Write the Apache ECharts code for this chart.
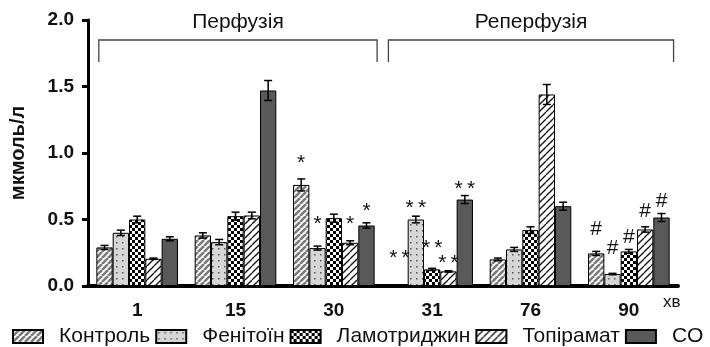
<!DOCTYPE html>
<html>
<head>
<meta charset="utf-8">
<script src="https://cdn.jsdelivr.net/npm/echarts@6/dist/echarts.min.js"></script>
<style>
html,body{margin:0;padding:0;background:#fff;}
#chart{width:710px;height:347px;}
</style>
</head>
<body>
<div id="chart"></div>
<script>
// ---- data ----
const categories = ['1', '15', '30', '31', '76', '90'];
const seriesNames = ['Контроль', 'Фенітоїн', 'Ламотриджин', 'Топірамат', 'CO'];
const yTicks = [0, 0.5, 1.0, 1.5, 2.0];

const control     = [0.29, 0.38, 0.76, 0.01, 0.20, 0.245];
const phenytoin   = [0.40, 0.33, 0.285, 0.50, 0.275, 0.09];
const lamotrigine = [0.50, 0.525, 0.51, 0.125, 0.42, 0.26];
const topiramate  = [0.205, 0.53, 0.325, 0.11, 1.44, 0.425];
const co          = [0.355, 1.47, 0.455, 0.65, 0.60, 0.515];

const controlErr     = [0.015, 0.02, 0.045, 0, 0.01, 0.015];
const phenytoinErr   = [0.02, 0.02, 0.015, 0.025, 0.015, 0.005];
const lamotrigineErr = [0.025, 0.03, 0.03, 0.008, 0.025, 0.015];
const topiramateErr  = [0.005, 0.025, 0.015, 0.005, 0.075, 0.02];
const coErr          = [0.015, 0.075, 0.02, 0.03, 0.03, 0.03];

const controlMark     = ['', '', '*', '* *', '', '#'];
const phenytoinMark   = ['', '', '*', '* *', '', '#'];
const lamotrigineMark = ['', '', '', '* *', '', '#'];
const topiramateMark  = ['', '', '*', '* *', '', '#'];
const coMark          = ['', '', '*', '* *', '', '#'];

const controlMarkAt     = [null, null, 0.96, 0.25, null, 0.426];
const phenytoinMarkAt   = [null, null, 0.50, 0.62, null, 0.283];
const lamotrigineMarkAt = [null, null, null, 0.32, null, 0.37];
const topiramateMarkAt  = [null, null, 0.50, 0.21, null, 0.564];
const coMarkAt          = [null, null, 0.60, 0.765, null, 0.64];

const bracketLabels = ['Перфузія', 'Реперфузія'];
const bracketFrom = ['1', '31'];
const bracketTo = ['30', '90'];
const axisUnit = 'хв';
const yName = 'мкмоль/л';

// ---- patterns ----
function makeTile(w, h, draw) {
  const c = document.createElement('canvas');
  c.width = w; c.height = h;
  const ctx = c.getContext('2d');
  draw(ctx, w, h);
  return { image: c, repeat: 'repeat' };
}
function hatch(s, lw, col, bg) {
  return makeTile(s, s, (ctx) => {
    ctx.fillStyle = bg; ctx.fillRect(0, 0, s, s);
    ctx.strokeStyle = col; ctx.lineWidth = lw;
    for (const k of [-s, 0, s]) {
      ctx.beginPath(); ctx.moveTo(k, s); ctx.lineTo(k + s, 0); ctx.stroke();
    }
  });
}
const patControl = hatch(6, 2.6, '#7a7a7a', '#ffffff');
const patPhen = makeTile(6, 6, (ctx) => {
  ctx.fillStyle = '#d6d6d6'; ctx.fillRect(0, 0, 6, 6);
  ctx.fillStyle = '#555'; ctx.fillRect(2, 2, 1.5, 1.5);
});
const patLam = makeTile(6, 6, (ctx) => {
  ctx.fillStyle = '#fff'; ctx.fillRect(0, 0, 6, 6);
  ctx.fillStyle = '#000'; ctx.fillRect(0, 0, 3, 3); ctx.fillRect(3, 3, 3, 3);
});
const patTop = hatch(7, 1.3, '#111', '#ffffff');
const colCO = '#595959';

const fills = [patControl, patPhen, patLam, patTop, colCO];
const values = [control, phenytoin, lamotrigine, topiramate, co];
const errs = [controlErr, phenytoinErr, lamotrigineErr, topiramateErr, coErr];
const marks = [controlMark, phenytoinMark, lamotrigineMark, topiramateMark, coMark];
const markAt = [controlMarkAt, phenytoinMarkAt, lamotrigineMarkAt, topiramateMarkAt, coMarkAt];

const FONT = '"Liberation Sans", Arial, Helvetica, sans-serif';
const GAP = 0.17;
const N = seriesNames.length;

function barOffset(api, si) {
  const band = api.size([1, 0])[0];
  const bw = band * (1 - GAP) / N;
  return (si - (N - 1) / 2) * bw;
}

const series = [];
seriesNames.forEach((name, si) => {
  series.push({
    name: name,
    type: 'bar',
    data: values[si],
    barGap: '0%',
    barCategoryGap: (GAP * 100) + '%',
    itemStyle: { color: fills[si], borderColor: '#000', borderWidth: 1 },
    emphasis: { disabled: true },
    z: 2
  });
});
// error bars
seriesNames.forEach((name, si) => {
  series.push({
    type: 'custom',
    silent: true,
    z: 5,
    data: values[si].map((v, i) => [i, v, errs[si][i]]),
    renderItem: function (params, api) {
      const i = api.value(0), v = api.value(1), e = api.value(2);
      if (!e) return null;
      const dx = barOffset(api, si);
      const hi = api.coord([i, v + e]);
      const lo = api.coord([i, v - e]);
      const x = hi[0] + dx;
      const cap = 4;
      const st = { stroke: '#000', lineWidth: 1.5 };
      return {
        type: 'group',
        children: [
          { type: 'line', shape: { x1: x, y1: hi[1], x2: x, y2: lo[1] }, style: st },
          { type: 'line', shape: { x1: x - cap, y1: hi[1], x2: x + cap, y2: hi[1] }, style: st },
          { type: 'line', shape: { x1: x - cap, y1: lo[1], x2: x + cap, y2: lo[1] }, style: st }
        ]
      };
    }
  });
});
// significance marks
seriesNames.forEach((name, si) => {
  series.push({
    type: 'custom',
    silent: true,
    z: 6,
    data: marks[si].map((m, i) => [i, markAt[si][i] == null ? 0 : markAt[si][i], m]),
    renderItem: function (params, api) {
      const i = params.dataIndex;
      const txt = marks[si][i];
      if (!txt) return null;
      const p = api.coord([i, markAt[si][i]]);
      const isStar = txt.indexOf('*') >= 0;
      const fs = 21;
      return {
        type: 'text',
        x: p[0] + barOffset(api, si),
        y: p[1] + (isStar ? fs * 0.24 : 0),
        style: {
          text: isStar ? txt.replace(' ', '\u2009') : txt, fill: '#111', font: fs + 'px ' + FONT,
          align: 'center', verticalAlign: 'middle'
        }
      };
    }
  });
});

const chart = echarts.init(document.getElementById('chart'), null, { renderer: 'canvas' });
const option = {
  animation: false,
  backgroundColor: '#fff',
  grid: { left: 88, right: 32, top: 20, bottom: 61, containLabel: false },
  legend: {
    data: seriesNames,
    left: 12, top: 326,
    padding: 0,
    itemWidth: 30, itemHeight: 13,
    itemGap: 5,
    icon: 'rect',
    selectedMode: false,
    textStyle: { fontFamily: FONT, fontSize: 21, color: '#111', padding: [0, 0, 0, 11] }
  },
  xAxis: {
    type: 'category',
    data: categories,
    name: axisUnit,
    nameLocation: 'end',
    nameGap: -15,
    nameTextStyle: { fontFamily: FONT, fontSize: 17, color: '#111', align: 'left', verticalAlign: 'top', padding: [8, 0, 0, 0] },
    axisLine: { lineStyle: { color: '#000', width: 4 } },
    axisTick: { alignWithLabel: true, length: 9, lineStyle: { color: '#000', width: 3 } },
    axisLabel: { fontFamily: FONT, fontSize: 19, fontWeight: 'bold', color: '#111', margin: 15 },
    splitLine: { show: false }
  },
  yAxis: {
    type: 'value',
    min: yTicks[0], max: yTicks[yTicks.length - 1], interval: 0.5,
    name: yName,
    nameLocation: 'middle',
    nameGap: 60,
    nameRotate: 90,
    nameTextStyle: { fontFamily: FONT, fontSize: 20, fontWeight: 'bold', color: '#111' },
    axisLine: { show: true, lineStyle: { color: '#000', width: 3 } },
    axisTick: { show: true, length: 6, lineStyle: { color: '#000', width: 3 } },
    axisLabel: { fontFamily: FONT, fontSize: 19, fontWeight: 'bold', color: '#111', margin: 14,
      formatter: (v) => v.toFixed(1) },
    splitLine: { show: false }
  },
  series: series
};
chart.setOption(option);

// ---- brackets (derived from category positions) ----
function drawBrackets() {
  const graphics = [];
  const gridTop = 20;
  const lineY = gridTop + 20;
  const tickY = gridTop + 42;
  const p0 = chart.convertToPixel({ xAxisIndex: 0 }, categories[0]);
  const p1 = chart.convertToPixel({ xAxisIndex: 0 }, categories[1]);
  const band = p1 - p0;
  const leftOff = [-0.39, -0.445];
  const rightOff = [0.44, 0.455];
  bracketLabels.forEach((lab, k) => {
    const xa = chart.convertToPixel({ xAxisIndex: 0 }, bracketFrom[k]) + leftOff[k] * band;
    const xb = chart.convertToPixel({ xAxisIndex: 0 }, bracketTo[k]) + rightOff[k] * band;
    graphics.push({
      type: 'polyline', silent: true,
      shape: { points: [[xa, tickY], [xa, lineY], [xb, lineY], [xb, tickY]] },
      style: { stroke: '#444', lineWidth: 1.3, fill: null }
    });
    graphics.push({
      type: 'text', silent: true,
      x: (xa + xb) / 2, y: lineY - 18,
      style: { text: lab, font: '21px ' + FONT, fill: '#111', align: 'center', verticalAlign: 'middle' }
    });
  });
  chart.setOption({ graphic: graphics });
}
drawBrackets();
</script>
</body>
</html>
